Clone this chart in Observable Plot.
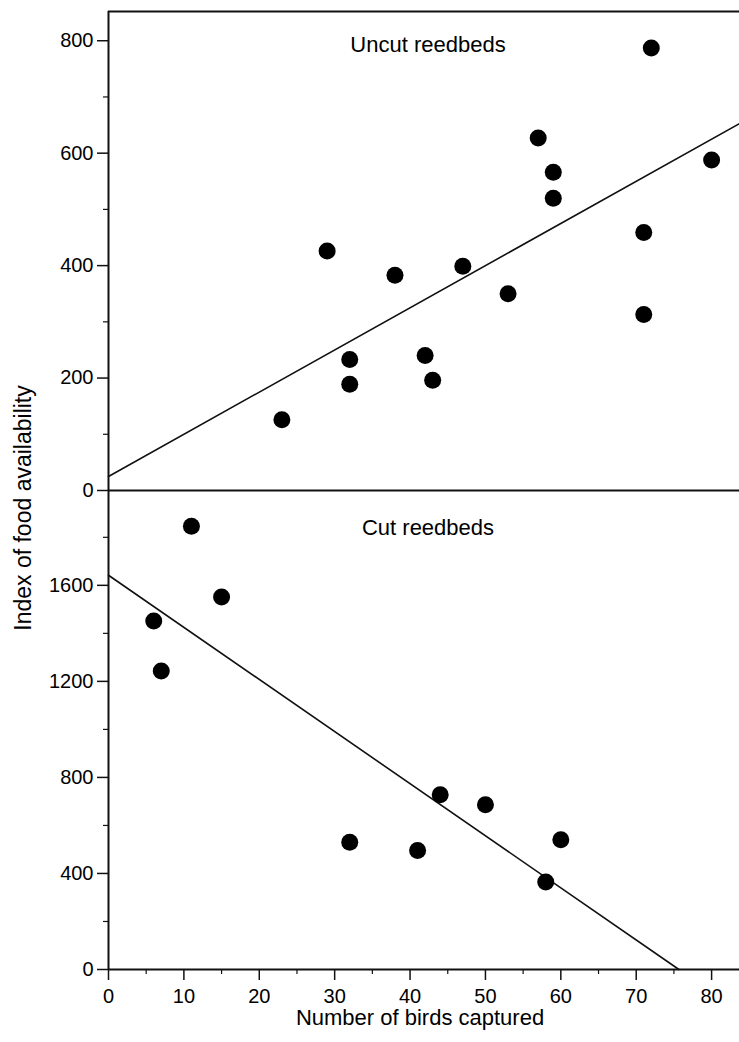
<!DOCTYPE html>
<html>
<head>
<meta charset="utf-8">
<script src="https://cdn.jsdelivr.net/npm/d3@7"></script>
<script src="https://cdn.jsdelivr.net/npm/@observablehq/plot@0.6"></script>
<style>
  body { margin: 0; background: #fff; font-family: "Liberation Sans", Arial, Helvetica, sans-serif; color: #000; }
  #wrap { position: relative; width: 739px; height: 1042px; overflow: hidden; }
  #top { position: absolute; left: 0; top: 0; z-index: 2; }
  #bottom { position: absolute; left: 0; top: 489px; z-index: 1; }
  #ytitle { position: absolute; left: 23px; top: 508px; transform: translate(-50%, -50%) rotate(-90deg); font-size: 23px; white-space: nowrap; }
  #xtitle { position: absolute; left: 420px; top: 1018px; transform: translate(-50%, -50%); font-size: 22px; white-space: nowrap; }
  svg { background: transparent !important; }
</style>
</head>
<body>
<div id="wrap">
  <div id="top"></div>
  <div id="bottom"></div>
  <div id="ytitle">Index of food availability</div>
  <div id="xtitle">Number of birds captured</div>
</div>
<script>
// ---- Data ----
const panelLabels = ["Uncut reedbeds", "Cut reedbeds"];

const uncutBirds = [23, 29, 32, 32, 38, 42, 43, 47, 53, 57, 59, 59, 71, 71, 72, 80];
const uncutFood  = [126, 426, 233, 189, 383, 240, 196, 399, 350, 627, 566, 520, 459, 313, 787, 588];

const cutBirds = [6, 7, 11, 15, 32, 41, 44, 50, 58, 60];
const cutFood  = [1451, 1243, 1846, 1551, 530, 496, 728, 686, 364, 540];

// regression lines: [intercept, slope]
const uncutFit = [25, 7.5];
const cutFit   = [1642, -21.7];

const xDomain = [0, 83.7];
const uncutYDomain = [0, 852];
const cutYDomain = [0, 1995];

const xTicks = [0, 10, 20, 30, 40, 50, 60, 70, 80];
const xMinorTicks = [5, 15, 25, 35, 45, 55, 65, 75];
const uncutYTicks = [0, 200, 400, 600, 800];
const uncutYMinor = [100, 300, 500, 700];
const cutYTicks = [0, 400, 800, 1200, 1600];
const cutYMinor = [200, 600, 1000, 1400, 1800];

// ---- Build ----
const ink = "#111";
const font = "'Liberation Sans', Arial, Helvetica, sans-serif";
const fmt = d => String(d);
const uncut = uncutBirds.map((b, i) => ({birds: b, food: uncutFood[i]}));
const cut = cutBirds.map((b, i) => ({birds: b, food: cutFood[i]}));

function fitLine([a, b], x0, x1) {
  let xEnd = x1;
  if (b < 0) xEnd = Math.min(x1, -a / b);
  return [{birds: x0, food: a + b * x0}, {birds: xEnd, food: a + b * xEnd}];
}

const topPlot = Plot.plot({
  width: 739, height: 505,
  marginTop: 11, marginBottom: 15, marginLeft: 108, marginRight: 0,
  style: {fontFamily: font, fontSize: "20px", color: ink, background: "transparent", overflow: "visible"},
  x: {domain: xDomain, axis: null},
  y: {domain: uncutYDomain, axis: null},
  marks: [
    Plot.axisY({ticks: uncutYTicks, tickSize: 11, tickPadding: 4, tickFormat: fmt, label: null, strokeWidth: 1.5, fontSize: 20, fill: "#000"}),
    Plot.axisY({ticks: uncutYMinor, tickSize: 5, tickFormat: () => "", label: null, strokeWidth: 1.2}),
    Plot.ruleX([xDomain[0]], {stroke: ink, strokeWidth: 2}),
    Plot.ruleY([uncutYDomain[1]], {stroke: ink, strokeWidth: 2}),
    Plot.ruleY([uncutYDomain[0]], {stroke: ink, strokeWidth: 2}),
    Plot.line(fitLine(uncutFit, xDomain[0], xDomain[1]), {x: "birds", y: "food", stroke: ink, strokeWidth: 1.6}),
    Plot.dot(uncut, {x: "birds", y: "food", r: 8.5, fill: "#000", stroke: "none"}),
    Plot.text([panelLabels[0]], {frameAnchor: "top", dx: 4, dy: 25, fontSize: 22, fill: "#000", text: d => d})
  ]
});
document.getElementById("top").appendChild(topPlot);

const bottomPlot = Plot.plot({
  width: 739, height: 553,
  marginTop: 1, marginBottom: 73, marginLeft: 108, marginRight: 0,
  style: {fontFamily: font, fontSize: "20px", color: ink, background: "transparent"},
  x: {domain: xDomain, axis: null},
  y: {domain: cutYDomain, axis: null},
  marks: [
    Plot.axisY({ticks: cutYTicks, tickSize: 11, tickPadding: 4, tickFormat: fmt, label: null, strokeWidth: 1.5, fontSize: 20, fill: "#000"}),
    Plot.axisY({ticks: cutYMinor, tickSize: 5, tickFormat: () => "", label: null, strokeWidth: 1.2}),
    Plot.axisX({ticks: xTicks, tickSize: 11, tickPadding: 8, tickFormat: fmt, label: null, strokeWidth: 1.5, fontSize: 20, fill: "#000"}),
    Plot.axisX({ticks: xMinorTicks, tickSize: 5, tickFormat: () => "", label: null, strokeWidth: 1.2}),
    Plot.ruleX([xDomain[0]], {stroke: ink, strokeWidth: 2}),
    Plot.ruleY([cutYDomain[0]], {stroke: ink, strokeWidth: 2}),
    Plot.line(fitLine(cutFit, xDomain[0], xDomain[1]), {x: "birds", y: "food", stroke: ink, strokeWidth: 1.6}),
    Plot.dot(cut, {x: "birds", y: "food", r: 8.5, fill: "#000", stroke: "none"}),
    Plot.text([panelLabels[1]], {frameAnchor: "top", dx: 4, dy: 29, fontSize: 22, fill: "#000", text: d => d})
  ]
});
document.getElementById("bottom").appendChild(bottomPlot);
</script>
</body>
</html>
